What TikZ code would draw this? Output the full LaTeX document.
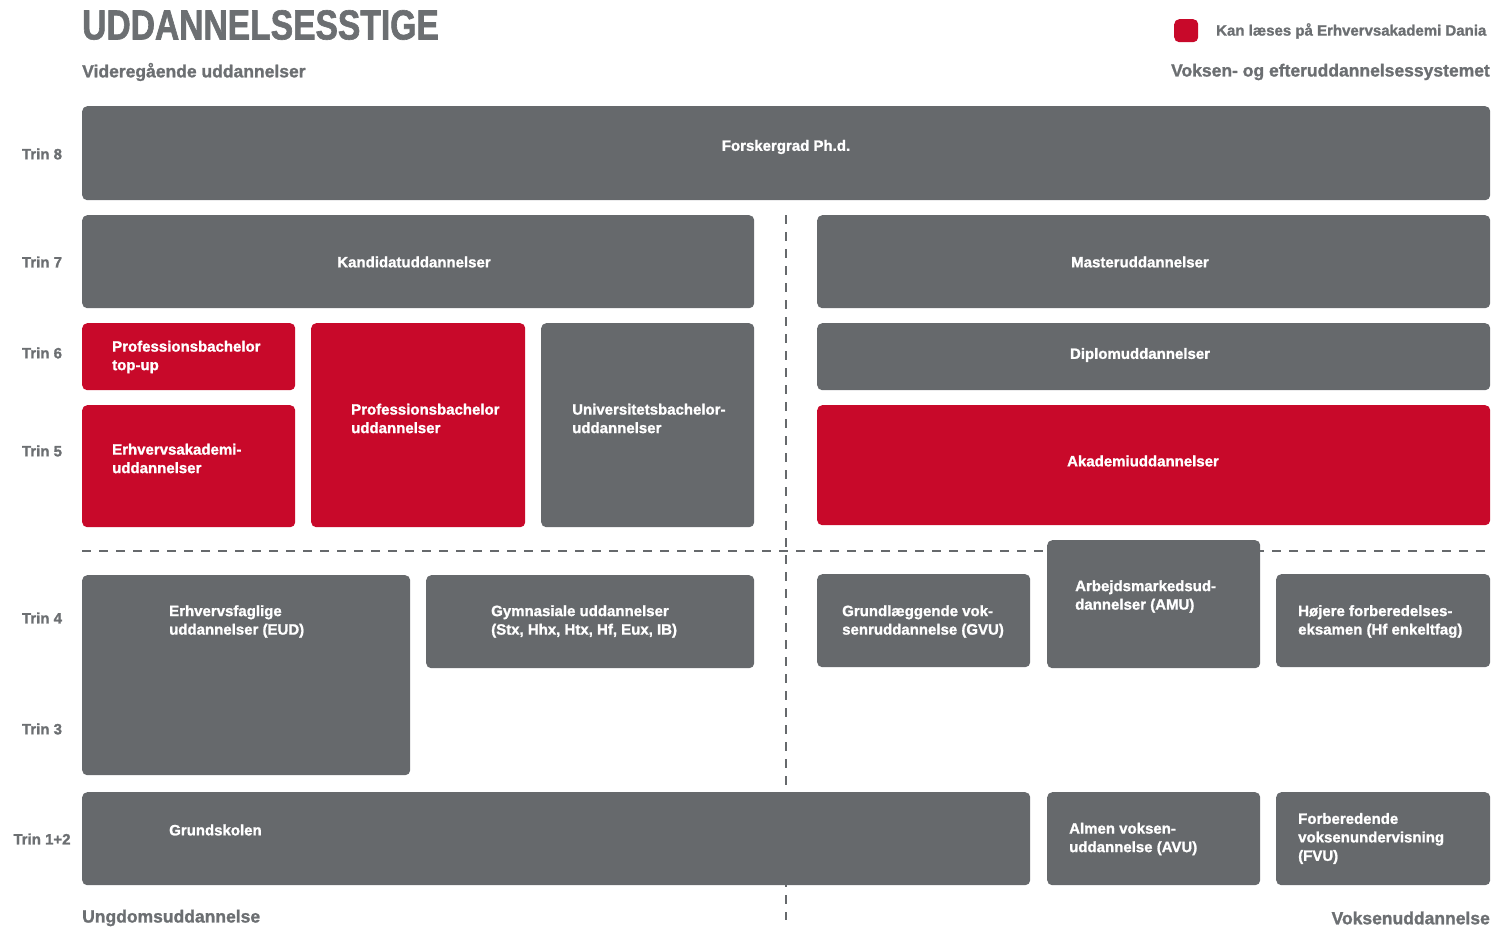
\documentclass[tikz,border=0pt]{standalone}
\usepackage{fontspec}
\setmainfont{Liberation Sans}[BoldFeatures={FakeBold=1.3}]
\newfontfamily\titlefont{Liberation Sans}[FakeStretch=0.8, BoldFeatures={FakeBold=1.5}]
\usepackage{tikz}
\usetikzlibrary{positioning}

\definecolor{daniagray}{HTML}{66696C}
\definecolor{labelgray}{HTML}{6C6F72}
\definecolor{daniared}{HTML}{C8092A}

\begin{document}
\begin{tikzpicture}[
    x=1pt, y=-1pt,
    box/.style={
        rectangle,
        rounded corners=5pt,
        inner sep=0pt,
        anchor=north west
    },
    graybox/.style={box, fill=daniagray},
    redbox/.style={box, fill=daniared},
    boxtext/.style={
        text=white, inner sep=0pt,
        align=left, anchor=west,
        font=\bfseries\fontsize{15}{18.5}\selectfont
    },
    midtext/.style={boxtext, anchor=center, align=center},
    trin/.style={
        text=labelgray, inner sep=0pt,
        font=\bfseries\fontsize{15}{17}\selectfont
    },
    heading/.style={
        text=labelgray, inner sep=0pt,
        font=\bfseries\fontsize{17.5}{20}\selectfont
    },
    dashline/.style={
        draw=daniagray, line width=1.8pt,
        dash pattern=on 9pt off 8pt
    }
]
\useasboundingbox (0,0) rectangle (1495,928);

% titel og forklaring
\node[text=labelgray, inner sep=0pt, anchor=west,
    font=\titlefont\bfseries\fontsize{42}{44}\selectfont] (title) at (82,25) {UDDANNELSESSTIGE};
\node[redbox, minimum width=24pt, minimum height=23pt] (legendbox) at (1174,19) {};
\node[trin, anchor=west] (legend) at (1216,31) {Kan læses på Erhvervsakademi Dania};
\node[heading, anchor=west] (videre) at (82,72) {Videregående uddannelser};
\node[heading, anchor=east] (voksen) at (1490,72) {Voksen- og efteruddannelsessystemet};
\node[heading, anchor=west] (ungdom) at (82,918) {Ungdomsuddannelse};
\node[heading, anchor=east] (voksenudd) at (1490,918) {Voksenuddannelse};

% trin
\node[trin] (trin8) at (42,154) {Trin 8};
\node[trin] (trin7) at (42,262) {Trin 7};
\node[trin] (trin6) at (42,353) {Trin 6};
\node[trin] (trin5) at (42,451) {Trin 5};
\node[trin] (trin4) at (42,618) {Trin 4};
\node[trin] (trin3) at (42,729) {Trin 3};
\node[trin] (trin12) at (42,839) {Trin 1+2};

% stiplede skillelinjer
\coordinate (vtop) at (786,215);
\coordinate (vbot) at (786,920);
\coordinate (hleft) at (82,551);
\coordinate (hright) at (1492,551);
\draw[dashline] (vtop) -- (vbot);
\draw[dashline] (hleft) -- (hright);

% trin 8
\node[graybox, minimum width=1408pt, minimum height=94pt] (phd) at (82,106) {};
\node[midtext] at (786,147) {Forskergrad Ph.d.};

% trin 7
\node[graybox, minimum width=672pt, minimum height=93pt] (kandidat) at (82,215) {};
\node[midtext] at (414,262) {Kandidatuddannelser};
\node[graybox, minimum width=673pt, minimum height=93pt] (master) at (817,215) {};
\node[midtext] at (1140,262) {Masteruddannelser};

% trin 6 og 5
\node[redbox, minimum width=213pt, minimum height=67pt] (topup) at (82,323) {};
\node[boxtext] at (112,357) {Professionsbachelor\\top-up};
\node[redbox, minimum width=214pt, minimum height=204pt] (profbach) at (311,323) {};
\node[boxtext] at (351,418.5) {Professionsbachelor\\uddannelser};
\node[graybox, minimum width=213pt, minimum height=204pt] (unibach) at (541,323) {};
\node[boxtext] at (572,418.5) {Universitetsbachelor-\\uddannelser};
\node[redbox, minimum width=213pt, minimum height=122pt] (erhvaka) at (82,405) {};
\node[boxtext] at (112,458.5) {Erhvervsakademi-\\uddannelser};
\node[graybox, minimum width=673pt, minimum height=67pt] (diplom) at (817,323) {};
\node[midtext] at (1140,355) {Diplomuddannelser};
\node[redbox, minimum width=673pt, minimum height=120pt] (akademi) at (817,405) {};
\node[midtext] at (1143,461) {Akademiuddannelser};

% trin 4 og 3
\node[graybox, minimum width=328pt, minimum height=200pt] (eud) at (82,575) {};
\node[boxtext] at (169,621.5) {Erhvervsfaglige\\uddannelser (EUD)};
\node[graybox, minimum width=328pt, minimum height=93pt] (gym) at (426,575) {};
\node[boxtext] at (491,621.5) {Gymnasiale uddannelser\\(Stx, Hhx, Htx, Hf, Eux, IB)};
\node[graybox, minimum width=213pt, minimum height=93pt] (gvu) at (817,574) {};
\node[boxtext] at (842,621.5) {Grundlæggende vok-\\senruddannelse (GVU)};
\node[graybox, minimum width=213pt, minimum height=128pt] (amu) at (1047,540) {};
\node[boxtext] at (1075,596.5) {Arbejdsmarkedsud-\\dannelser (AMU)};
\node[graybox, minimum width=214pt, minimum height=93pt] (hf) at (1276,574) {};
\node[boxtext] at (1298,621.5) {Højere forberedelses-\\eksamen (Hf enkeltfag)};

% trin 1+2
\node[graybox, minimum width=948pt, minimum height=93pt] (grund) at (82,792) {};
\node[boxtext] at (169,830) {Grundskolen};
\node[graybox, minimum width=213pt, minimum height=93pt] (avu) at (1047,792) {};
\node[boxtext] at (1069,839) {Almen voksen-\\uddannelse (AVU)};
\node[graybox, minimum width=214pt, minimum height=93pt] (fvu) at (1276,792) {};
\node[boxtext] at (1298,838.5) {Forberedende\\voksenundervisning\\(FVU)};
\end{tikzpicture}
\end{document}
